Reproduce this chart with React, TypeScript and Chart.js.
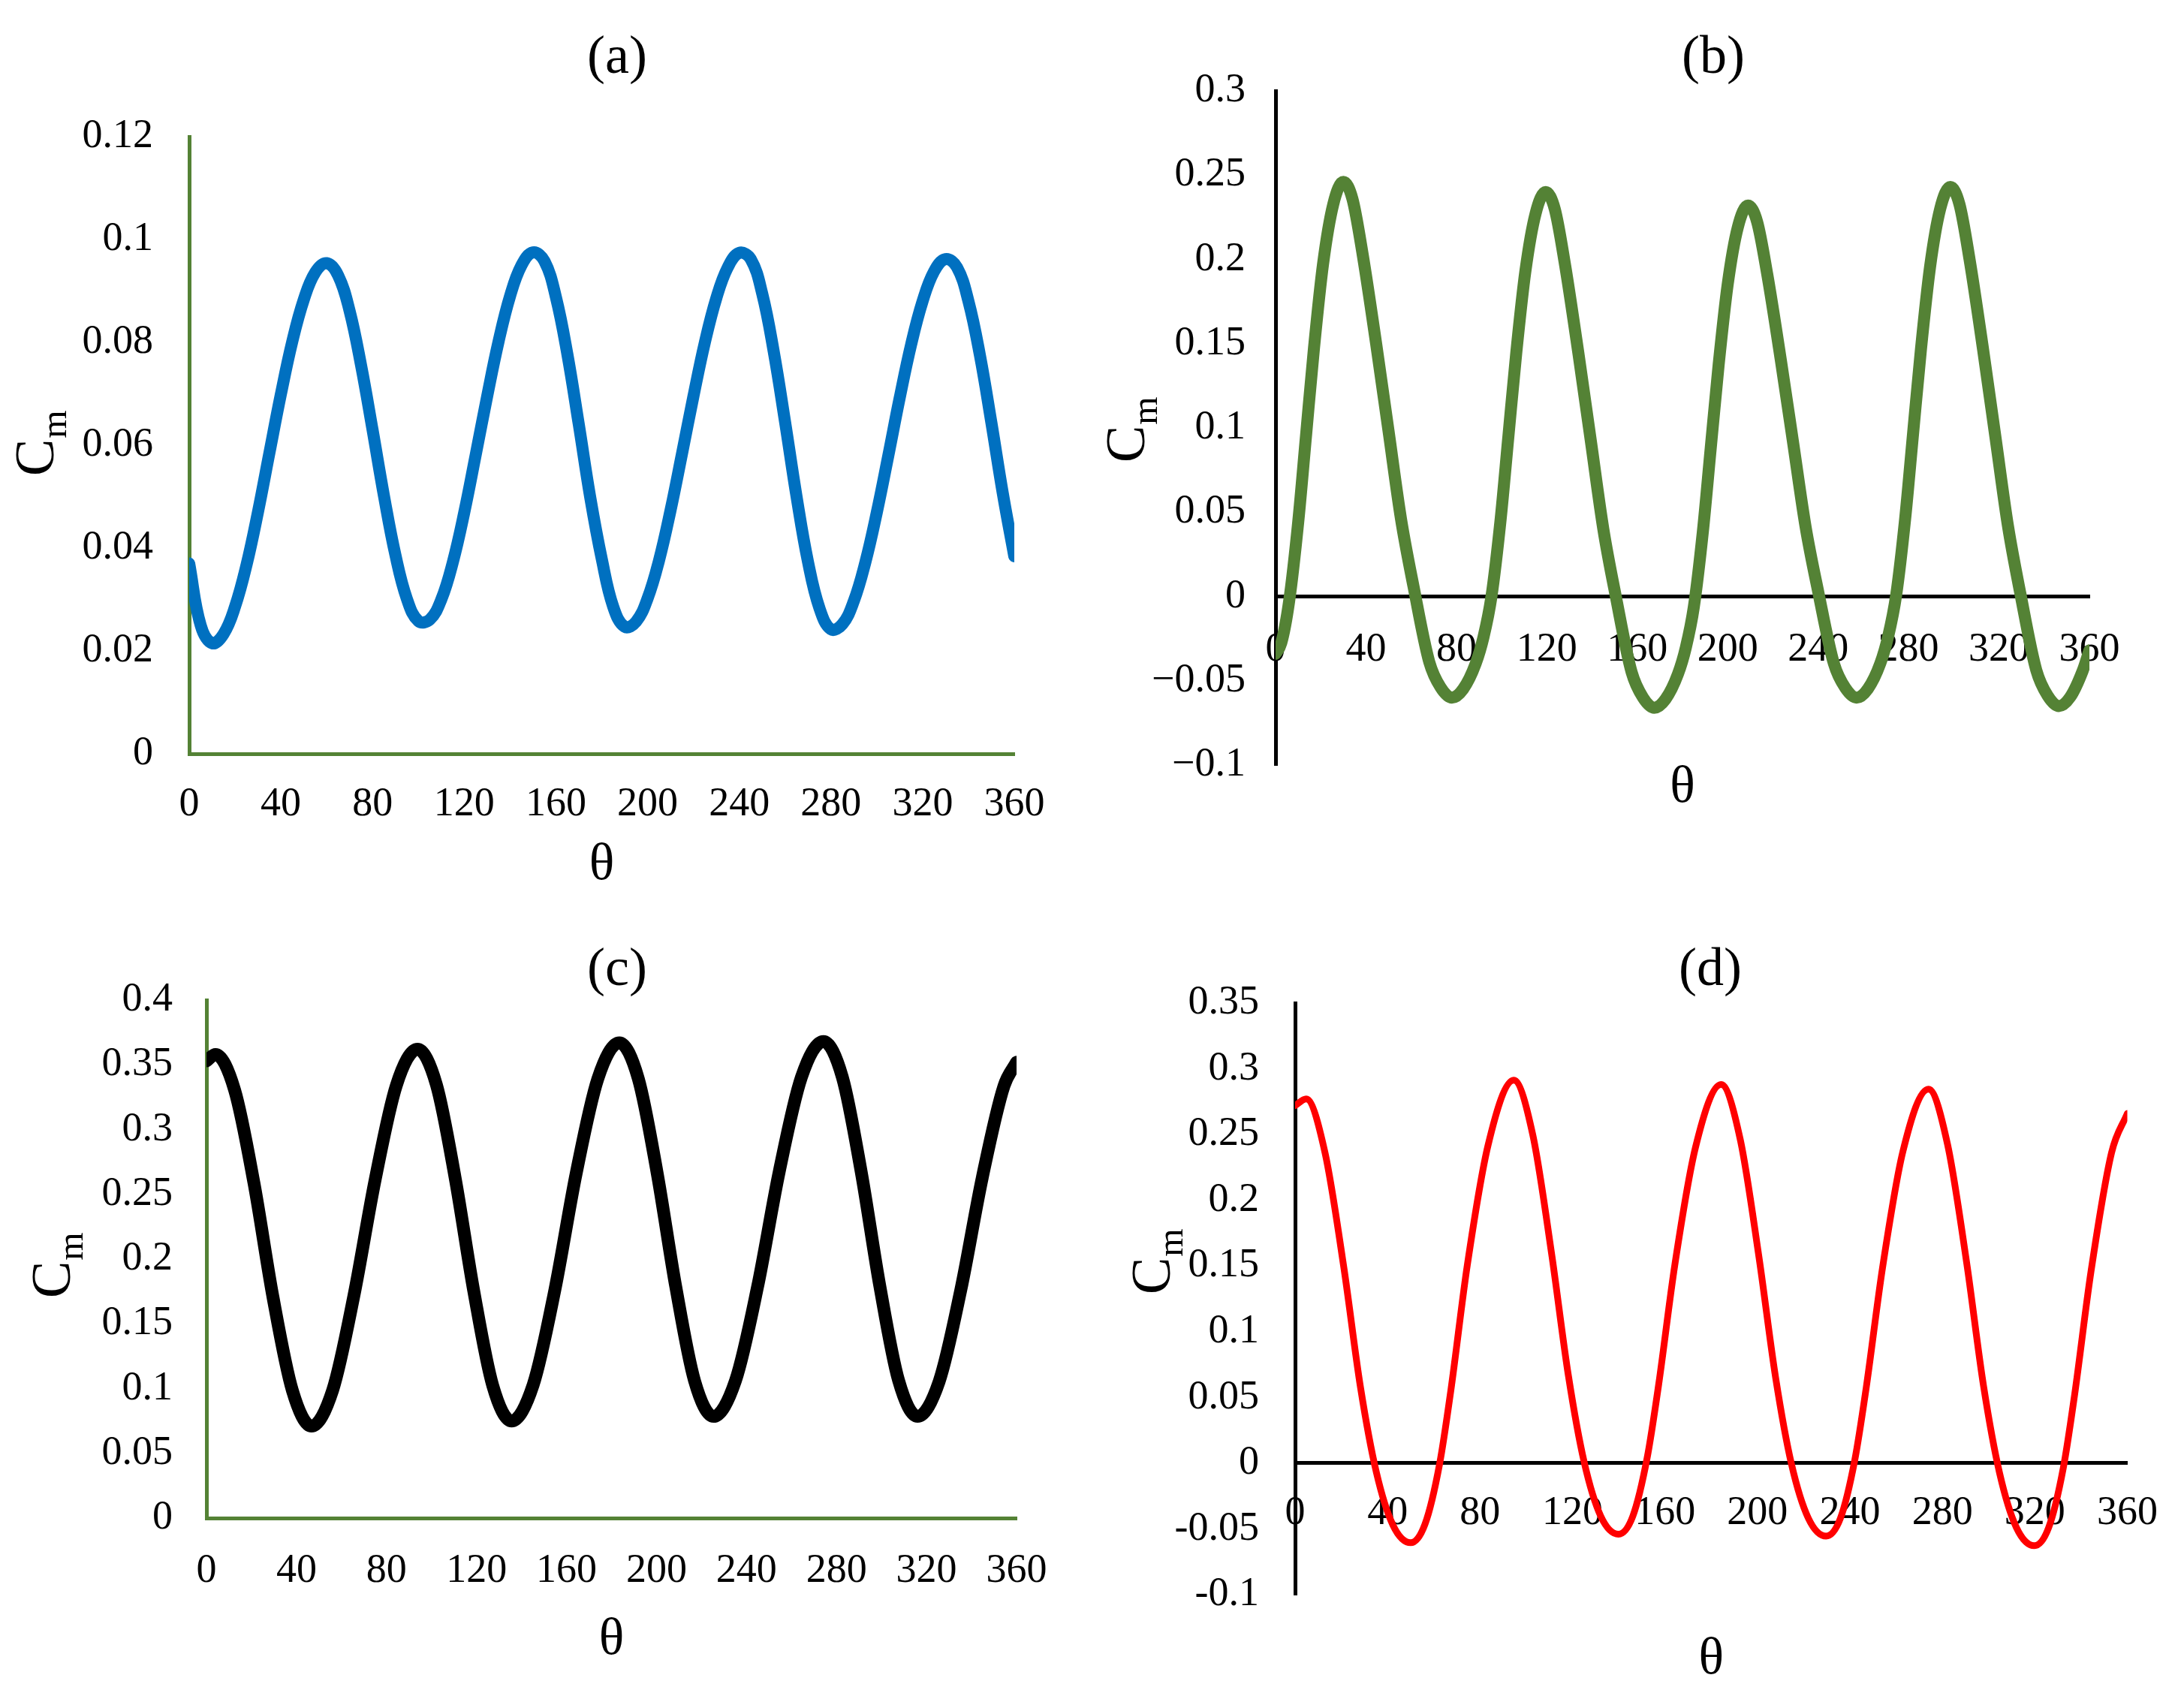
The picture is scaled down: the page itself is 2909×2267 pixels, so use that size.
import React, { useEffect, useRef } from "react";
import { Chart, registerables } from "chart.js";

Chart.register(...registerables);

const SERIF = '"Liberation Serif", "Times New Roman", Times, serif';

// ---------- shared x ticks ----------
const THETA_TICKS = [0, 40, 80, 120, 160, 200, 240, 280, 320, 360];

// ---------- panel (a) ----------
const thetaA = [
  0, 5, 10, 15, 20, 25, 30, 35, 40, 45, 50, 55, 60, 65, 70, 75, 80, 85, 90, 95,
  100, 105, 110, 115, 120, 125, 130, 135, 140, 145, 150, 155, 160, 165, 170, 175,
  180, 185, 190, 195, 200, 205, 210, 215, 220, 225, 230, 235, 240, 245, 250, 255,
  260, 265, 270, 275, 280, 285, 290, 295, 300, 305, 310, 315, 320, 325, 330, 335,
  340, 345, 350, 355, 360,
];
const cmA = [
  0.037, 0.025, 0.0215, 0.0233, 0.0286, 0.0367, 0.047, 0.0585, 0.0699, 0.0802,
  0.0883, 0.0936, 0.0954, 0.093, 0.0861, 0.0755, 0.063, 0.0501, 0.0386, 0.0301,
  0.0258, 0.0261, 0.03, 0.0372, 0.0469, 0.0581, 0.0695, 0.0802, 0.089, 0.095,
  0.0975, 0.0958, 0.0888, 0.0777, 0.064, 0.0498, 0.0379, 0.0286, 0.0247, 0.0257,
  0.0302, 0.0376, 0.0473, 0.0583, 0.0695, 0.08, 0.0886, 0.0946, 0.0974, 0.0962,
  0.0895, 0.0783, 0.0645, 0.05, 0.0373, 0.0283, 0.0242, 0.0252, 0.0297, 0.0372,
  0.0469, 0.0579, 0.0692, 0.0796, 0.088, 0.0938, 0.0962, 0.0946, 0.088, 0.0775,
  0.0644, 0.0506, 0.0384,
];
const yTicksA = [0, 0.02, 0.04, 0.06, 0.08, 0.1, 0.12];
const yLabelsA = ["0", "0.02", "0.04", "0.06", "0.08", "0.1", "0.12"];

// ---------- panel (b) ----------
const thetaB = [
  0, 2.5, 6, 10, 13.5, 17, 21, 25.5, 30, 34, 38.5, 44.5, 50, 55.5, 61, 68, 73, 78,
  83, 88.5, 92, 95.5, 99.5, 103, 106.5, 110.5, 115, 119.5, 123.5, 128, 134, 139.5,
  145, 150.5, 157.5, 162.5, 167.5, 172.5, 178, 181.5, 185, 189, 192.5, 196, 200,
  204.5, 209, 213, 217.5, 223.5, 229, 234.5, 240, 247, 252, 257, 262, 267.5, 271,
  274.5, 278.5, 282, 285.5, 289.5, 294, 298.5, 302.5, 307, 313, 318.5, 324, 329.5,
  336.5, 341.5, 346.5, 351.5, 357, 360,
];
const cmB = [
  -0.034, -0.0277, -0.0028, 0.0439, 0.0958, 0.1474, 0.1972, 0.2326, 0.246, 0.2359,
  0.2032, 0.1499, 0.0979, 0.0459, 0.0061, -0.0389, -0.0539, -0.06, -0.0549, -0.0399,
  -0.024, 0, 0.045, 0.0951, 0.1449, 0.1929, 0.2271, 0.24, 0.2299, 0.1972, 0.1439,
  0.0919, 0.0399, 0.0001, -0.0449, -0.0599, -0.066, -0.0609, -0.046, -0.0302,
  -0.0064, 0.0383, 0.0881, 0.1375, 0.1852, 0.2192, 0.232, 0.2224, 0.1911, 0.1403,
  0.0907, 0.041, 0.0031, -0.0399, -0.0542, -0.06, -0.0548, -0.0397, -0.0236, 0.0006,
  0.0461, 0.0967, 0.1469, 0.1954, 0.23, 0.243, 0.2328, 0.1999, 0.1463, 0.0939,
  0.0416, 0.0015, -0.0437, -0.0588, -0.065, -0.0597, -0.0442, -0.032,
];
const yTicksB = [-0.1, -0.05, 0, 0.05, 0.1, 0.15, 0.2, 0.25, 0.3];
const yLabelsB = ["\u22120.1", "\u22120.05", "0", "0.05", "0.1", "0.15", "0.2", "0.25", "0.3"];

// ---------- panel (c) ----------
const thetaC = [
  0, 4, 12.5, 21.1, 29.6, 38.2, 46.7, 56.1, 65.5, 75, 84.4, 93.8, 102.2, 110.5,
  118.9, 127.2, 135.6, 145.2, 154.8, 164.3, 173.9, 183.5, 191.9, 200.2, 208.6,
  216.9, 225.3, 235.1, 244.9, 254.6, 264.4, 274.2, 282.6, 290.9, 299.3, 307.6, 316,
  325.6, 335.2, 344.8, 354.4, 360,
];
const cmC = [
  0.353, 0.358, 0.3306, 0.2588, 0.1702, 0.0984, 0.071, 0.0988, 0.1715, 0.2615,
  0.3342, 0.362, 0.3346, 0.2628, 0.1742, 0.1024, 0.075, 0.1029, 0.1759, 0.2661,
  0.3391, 0.367, 0.3394, 0.2673, 0.1782, 0.106, 0.0785, 0.1061, 0.1785, 0.268,
  0.3404, 0.368, 0.3404, 0.268, 0.1785, 0.1061, 0.0785, 0.1054, 0.1759, 0.2631,
  0.3336, 0.352,
];
const yTicksC = [0, 0.05, 0.1, 0.15, 0.2, 0.25, 0.3, 0.35, 0.4];
const yLabelsC = ["0", "0.05", "0.1", "0.15", "0.2", "0.25", "0.3", "0.35", "0.4"];

// ---------- panel (d) ----------
const thetaD = [
  0, 4.8, 12.9, 21.1, 28.3, 35.1, 42.3, 50, 56.2, 62.5, 67.4, 74.5, 83.5, 94.6,
  102.8, 110.9, 118.2, 125, 132.2, 139.9, 146.1, 152.3, 157.2, 164.3, 173.2, 184.3,
  192.5, 200.6, 207.9, 214.7, 222, 229.7, 235.9, 242.1, 247, 254.1, 262.9, 274,
  282.2, 290.5, 297.8, 304.7, 312, 319.8, 326, 332.3, 337.2, 344.3, 353.2, 360,
];
const cmD = [
  0.272, 0.277, 0.2365, 0.1487, 0.0576, -0.0065, -0.047, -0.0605, -0.0464, -0.0007,
  0.0556, 0.1506, 0.242, 0.2913, 0.2499, 0.1601, 0.0669, 0.0012, -0.0402, -0.054,
  -0.0403, 0.0041, 0.0589, 0.1512, 0.2401, 0.288, 0.2468, 0.1575, 0.0647, -0.0005,
  -0.0418, -0.0555, -0.0419, 0.0023, 0.0567, 0.1485, 0.2369, 0.2845, 0.2428, 0.1525,
  0.0588, -0.0072, -0.0489, -0.0628, -0.0489, -0.0037, 0.052, 0.1459, 0.2363, 0.266,
];
const yTicksD = [-0.1, -0.05, 0, 0.05, 0.1, 0.15, 0.2, 0.25, 0.3, 0.35];
const yLabelsD = ["-0.1", "-0.05", "0", "0.05", "0.1", "0.15", "0.2", "0.25", "0.3", "0.35"];

// ---------- layout / style config ----------
type Panel = {
  key: string;
  title: string;
  theta: number[];
  cm: number[];
  yTicks: number[];
  yLabels: string[];
  yMin: number;
  yMax: number;
  lineColor: string;
  lineWidth: number;
  axisColor: string;
  xAtZero: boolean;
  monotone: boolean;
  box: { left: number; top: number; width: number; height: number };
  area: { left: number; top: number; right: number; bottom: number };
  xAxisHeight: number;
  yTickPad: number;
  xTickPad: number;
  thetaPad: number;
  titlePos: [number, number];
  cmPos: [number, number];
};

const PANELS: Panel[] = [
  {
    key: "a", title: "(a)", theta: thetaA, cm: cmA, yTicks: yTicksA, yLabels: yLabelsA,
    yMin: 0, yMax: 0.12, lineColor: "#0070C0", lineWidth: 16, axisColor: "#548235", xAtZero: false,
    monotone: false,
    box: { left: 0, top: 0, width: 1460, height: 1200 },
    area: { left: 252, top: 182, right: 1351, bottom: 1004 },
    xAxisHeight: 196, yTickPad: 48, xTickPad: 35, thetaPad: 5,
    titlePos: [822, 78], cmPos: [71, 634],
  },
  {
    key: "b", title: "(b)", theta: thetaB, cm: cmB, yTicks: yTicksB, yLabels: yLabelsB,
    yMin: -0.1, yMax: 0.3, lineColor: "#548235", lineWidth: 16, axisColor: "#000000", xAtZero: true,
    monotone: true,
    box: { left: 1440, top: 0, width: 1469, height: 1200 },
    area: { left: 259, top: 121, right: 1343, bottom: 1019 },
    xAxisHeight: 305, yTickPad: 40, xTickPad: 39, thetaPad: 8,
    titlePos: [842, 78], cmPos: [84, 616],
  },
  {
    key: "c", title: "(c)", theta: thetaC, cm: cmC, yTicks: yTicksC, yLabels: yLabelsC,
    yMin: 0, yMax: 0.4, lineColor: "#000000", lineWidth: 17, axisColor: "#548235", xAtZero: false,
    monotone: true,
    box: { left: 0, top: 1200, width: 1460, height: 1067 },
    area: { left: 275, top: 132, right: 1354, bottom: 822 },
    xAxisHeight: 245, yTickPad: 45, xTickPad: 38, thetaPad: 40,
    titlePos: [822, 93], cmPos: [93, 529],
  },
  {
    key: "d", title: "(d)", theta: thetaD, cm: cmD, yTicks: yTicksD, yLabels: yLabelsD,
    yMin: -0.1, yMax: 0.35, lineColor: "#FF0000", lineWidth: 9, axisColor: "#000000", xAtZero: true,
    monotone: true,
    box: { left: 1440, top: 1200, width: 1469, height: 1067 },
    area: { left: 285, top: 136, right: 1411, bottom: 924 },
    xAxisHeight: 305, yTickPad: 48, xTickPad: 35, thetaPad: 1,
    titlePos: [838, 93], cmPos: [118, 524],
  },
];

function PanelChart({ p }: { p: Panel }) {
  const ref = useRef<HTMLCanvasElement | null>(null);

  useEffect(() => {
    const canvas = ref.current;
    if (!canvas) return;
    const W = p.box.width;
    const H = p.box.height;

    const annot = {
      id: "annot_" + p.key,
      afterDraw(chart: any) {
        const ctx = chart.ctx as CanvasRenderingContext2D;
        ctx.save();
        ctx.fillStyle = "#000";
        ctx.font = `72px ${SERIF}`;
        ctx.textAlign = "center";
        ctx.textBaseline = "middle";
        ctx.fillText(p.title, p.titlePos[0], p.titlePos[1]);

        ctx.translate(p.cmPos[0], p.cmPos[1]);
        ctx.rotate(-Math.PI / 2);
        ctx.textAlign = "left";
        ctx.textBaseline = "alphabetic";
        ctx.font = `74px ${SERIF}`;
        ctx.fillText("C", 0, 0);
        const w = ctx.measureText("C").width;
        ctx.font = `48px ${SERIF}`;
        ctx.fillText("m", w + 1, 17);
        ctx.restore();
      },
    };

    const chart = new Chart(canvas, {
      type: "line",
      data: {
        datasets: [
          {
            data: p.theta.map((t, i) => ({ x: t, y: p.cm[i] })),
            borderColor: p.lineColor,
            borderWidth: p.lineWidth,
            pointRadius: 0,
            pointHoverRadius: 0,
            fill: false,
            tension: 0.4,
            cubicInterpolationMode: p.monotone ? "monotone" : "default",
            borderCapStyle: "round",
            borderJoinStyle: "round",
          } as any,
        ],
      },
      options: {
        responsive: false,
        animation: false,
        devicePixelRatio: 1,
        events: [],
        layout: {
          padding: {
            left: 0,
            top: p.area.top,
            right: W - p.area.right,
            bottom: p.xAtZero ? H - p.area.bottom : 0,
          },
        },
        plugins: {
          legend: { display: false },
          tooltip: { enabled: false },
          title: { display: false },
        },
        scales: {
          x: {
            type: "linear",
            min: 0,
            max: 360,
            position: (p.xAtZero ? { y: 0 } : "bottom") as any,
            afterBuildTicks: (s: any) => {
              s.ticks = THETA_TICKS.map((v) => ({ value: v }));
            },
            afterFit: (s: any) => {
              s.height = p.xAxisHeight;
            },
            grid: { display: false, drawTicks: false },
            border: { display: true, color: p.axisColor, width: 5 },
            ticks: {
              autoSkip: false,
              maxRotation: 0,
              minRotation: 0,
              padding: p.xTickPad,
              color: "#000",
              font: { family: SERIF, size: 54 },
              callback: (v: any) => String(v),
            },
            title: {
              display: true,
              text: "\u03b8",
              color: "#000",
              font: { family: SERIF, size: 70 },
              padding: { top: 0, bottom: p.thetaPad },
            },
          },
          y: {
            type: "linear",
            min: p.yMin,
            max: p.yMax,
            position: "left",
            afterBuildTicks: (s: any) => {
              s.ticks = p.yTicks.map((v) => ({ value: v }));
            },
            afterFit: (s: any) => {
              s.width = p.area.left;
            },
            grid: { display: false, drawTicks: false },
            border: { display: true, color: p.axisColor, width: 5 },
            ticks: {
              autoSkip: false,
              padding: p.yTickPad,
              color: "#000",
              font: { family: SERIF, size: 54 },
              callback: (_v: any, i: number) => p.yLabels[i],
            },
          },
        },
      } as any,
      plugins: [annot],
    });

    return () => {
      chart.destroy();
    };
  }, [p]);

  return (
    <canvas
      ref={ref}
      width={p.box.width}
      height={p.box.height}
      style={{
        position: "absolute",
        left: p.box.left,
        top: p.box.top,
        width: p.box.width,
        height: p.box.height,
      }}
    />
  );
}

export default function App() {
  return (
    <div
      style={{
        position: "absolute",
        left: 0,
        top: 0,
        width: 2909,
        height: 2267,
        background: "#ffffff",
        overflow: "hidden",
      }}
    >
      {PANELS.map((p) => (
        <PanelChart key={p.key} p={p} />
      ))}
    </div>
  );
}
